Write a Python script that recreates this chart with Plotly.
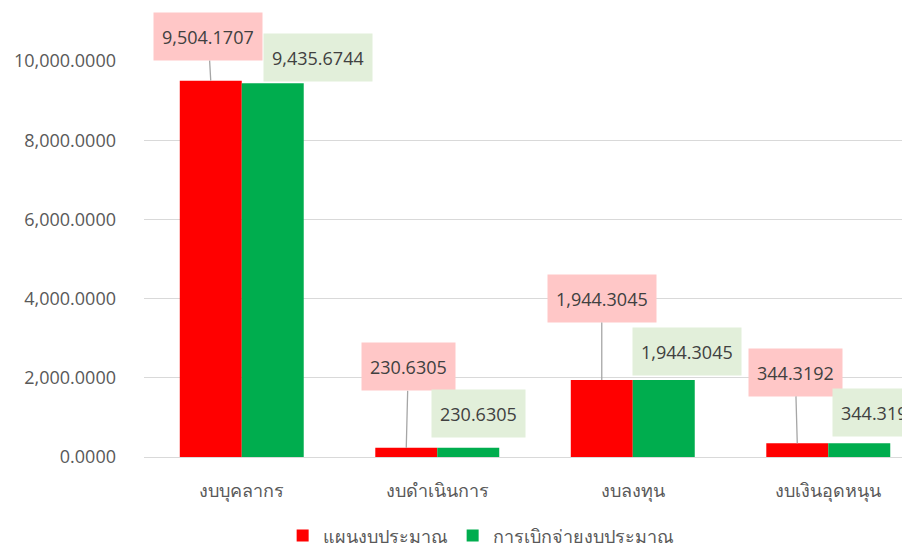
import plotly.graph_objects as go

categories = ["งบบุคลากร", "งบดำเนินการ", "งบลงทุน", "งบเงินอุดหนุน"]
plan_values = [9504.1707, 230.6305, 1944.3045, 344.3192]
spend_values = [9435.6744, 230.6305, 1944.3045, 344.3192]
series_names = ["แผนงบประมาณ", "การเบิกจ่ายงบประมาณ"]
tick_values = [0, 2000, 4000, 6000, 8000, 10000]
tick_labels = ["0.0000", "2,000.0000", "4,000.0000", "6,000.0000", "8,000.0000", "10,000.0000"]

# label box offsets (pixels) relative to each bar top
plan_offsets = [(-2.5, -44), (2, -81), (0, -81.5), (-2, -71)]
spend_offsets = [(45.5, -26), (10, -34), (23.5, -28.5), (20, -31)]

FONT = "Segoe UI, Open Sans, Noto Sans, sans-serif"
RED = "#ff0000"
GREEN = "#00ad4e"

fig = go.Figure()
fig.add_bar(x=categories, y=plan_values, name=series_names[0], marker_color=RED,
            marker_line_width=0)
fig.add_bar(x=categories, y=spend_values, name=series_names[1], marker_color=GREEN,
            marker_line_width=0)

def fmt(v):
    return f"{v:,.4f}"

annotations = []
for c, v, (dx, dy) in zip(categories, plan_values, plan_offsets):
    annotations.append(dict(
        x=c, y=v, xref="x", yref="y", xshift=-31,
        text=fmt(v), showarrow=True, arrowhead=0, arrowwidth=1.3, arrowcolor="#a6a6a6",
        ax=dx, ay=dy, standoff=0, startstandoff=0,
        bgcolor="#ffc7c7", borderpad=8, height=31,
        font=dict(family=FONT, size=18, color="#404040"),
    ))
for c, v, (dx, dy) in zip(categories, spend_values, spend_offsets):
    annotations.append(dict(
        x=c, y=v, xref="x", yref="y", xshift=31 + dx, yshift=-dy,
        text=fmt(v), showarrow=False,
        bgcolor="#e2efda", borderpad=8, height=31,
        font=dict(family=FONT, size=18, color="#404040"),
    ))

fig.update_layout(
    width=902, height=542,
    margin=dict(l=136, r=0, t=53, b=93),
    paper_bgcolor="white", plot_bgcolor="white",
    barmode="group", bargap=0.366, bargroupgap=0,
    font=dict(family=FONT, size=18, color="#595959"),
    annotations=annotations,
    legend=dict(orientation="h", xref="container", x=0.524, xanchor="center",
                yref="container", y=0.026, yanchor="middle",
                font=dict(family=FONT, size=18, color="#595959"),
                itemwidth=30, traceorder="normal"),
    showlegend=True,
)
fig.update_xaxes(range=[-0.5, 3.418], showgrid=False, showline=False,
                 tickfont=dict(size=18, color="#595959"), ticks="", zeroline=False,
                 ticklabelstandoff=21, automargin=False)
fig.update_yaxes(range=[0, 10000], tickvals=tick_values, ticktext=tick_labels,
                 showgrid=True, gridcolor="#d9d9d9", gridwidth=1.3,
                 zeroline=True, zerolinecolor="#d9d9d9", zerolinewidth=1.3,
                 showline=False, ticks="", ticklabelstandoff=27, automargin=False,
                 tickfont=dict(size=18, color="#595959"))

fig.write_html("out.html")
